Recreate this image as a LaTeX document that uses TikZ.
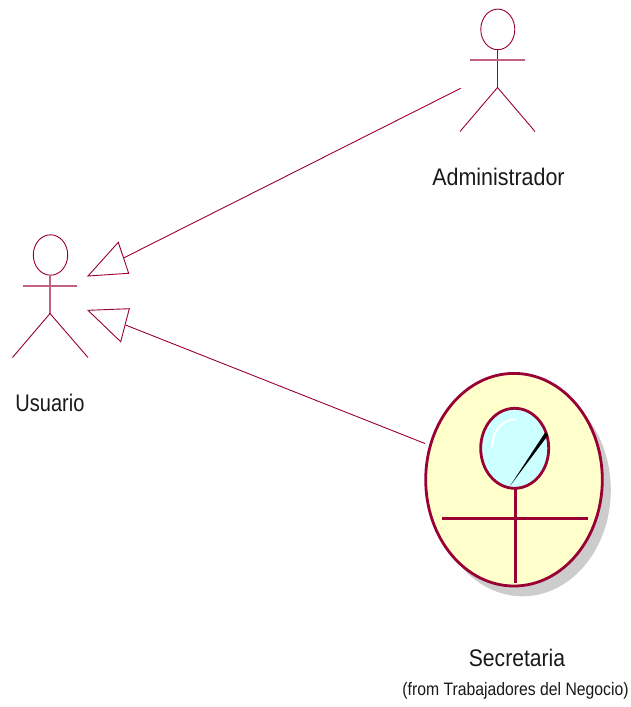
\documentclass[tikz,border=0pt]{standalone}
\usepackage{fontspec}
\setmainfont{Liberation Sans}
\newfontfamily\adminfont[FakeStretch=0.893]{Liberation Sans}
\newfontfamily\userfont[FakeStretch=0.835]{Liberation Sans}
\newfontfamily\secfont[FakeStretch=0.88]{Liberation Sans}
\newfontfamily\fromfont[FakeStretch=0.875]{Liberation Sans}
\definecolor{rosered}{HTML}{990033}
\definecolor{actorfill}{HTML}{FFFFCC}
\definecolor{headfill}{HTML}{CCFFFF}
\definecolor{shadowgrey}{HTML}{CCCCCC}
\tikzset{
  thinline/.style={draw=rosered,line width=0.9pt,line join=miter},
  softline/.style={draw=rosered!62,line width=1.7pt},
  boldline/.style={draw=rosered,line width=2.8pt},
  label/.style={inner sep=0pt,text=black!90},
  bigtext/.style={label,font=\fontsize{24}{26}\selectfont},
  smalltext/.style={label,font=\fontsize{18}{20}\selectfont},
}
\begin{document}
\begin{tikzpicture}[x=1pt,y=-1pt]
\useasboundingbox (0,0) rectangle (630,707);
% Administrador
\draw[thinline] (497.8,29.4) ellipse [x radius=17,y radius=20.3];
\coordinate (adminneck) at (497.5,50);
\coordinate (adminhip) at (497.5,87.5);
\draw[thinline] (adminneck) -- (adminhip);
\draw[softline] (470,60) -- (525,60);
\draw[thinline] (460,131.5) -- (adminhip) -- (535,131.5);
\node[bigtext] (admin) at (498.5,177) {\adminfont Administrador};
% Usuario
\draw[thinline] (50.5,255) ellipse [x radius=17.2,y radius=20.2];
\coordinate (userneck) at (50,275);
\coordinate (userhip) at (50,313.5);
\draw[softline] (userneck) -- (userhip);
\draw[softline] (23,286) -- (77,286);
\draw[thinline] (12.5,357.5) -- (userhip) -- (88,357.5);
\node[bigtext] (usuario) at (50,403) {\userfont Usuario};
% Secretaria
\fill[shadowgrey] (522.5,490) ellipse [x radius=88.3,y radius=106.3];
\draw[boldline,fill=actorfill] (514,479.7) ellipse [x radius=88.3,y radius=106.3];
\draw[boldline,fill=headfill] (514.7,448.3) ellipse [x radius=34,y radius=40];
\draw[white,line width=2pt,line cap=round] (492.3,446.7) .. controls (493,430) and (502,420) .. (515.3,419.3);
\fill[black] (510,486) -- (545.3,432.2) -- (548.2,435) -- cycle;
\coordinate (secneck) at (515.3,488.3);
\coordinate (secfoot) at (515.3,583);
\draw[boldline] (secneck) -- (secfoot);
\draw[draw=rosered,line width=3pt] (442,518.3) -- (587.5,518.3);
\node[bigtext] (secretaria) at (517,658) {\secfont Secretaria};
\node[smalltext] (from) at (515.5,691) {\fromfont (from Trabajadores del Negocio)};
% generalisations
\coordinate (t1tip) at (88,276);
\coordinate (t1a) at (118.3,242.3);
\coordinate (t1b) at (128.7,273.3);
\coordinate (t1mid) at (124,257.8);
\coordinate (t1end) at (460.7,88.3);
\draw[thinline] (t1tip) -- (t1a) -- (t1b) -- cycle;
\draw[thinline] (t1mid) -- (t1end);
\coordinate (t2tip) at (88,310.3);
\coordinate (t2a) at (129.3,308.7);
\coordinate (t2b) at (120.7,341.7);
\coordinate (t2mid) at (125.5,325);
\coordinate (t2end) at (425,443.5);
\draw[thinline] (t2tip) -- (t2a) -- (t2b) -- cycle;
\draw[thinline] (t2mid) -- (t2end);
\end{tikzpicture}
\end{document}
